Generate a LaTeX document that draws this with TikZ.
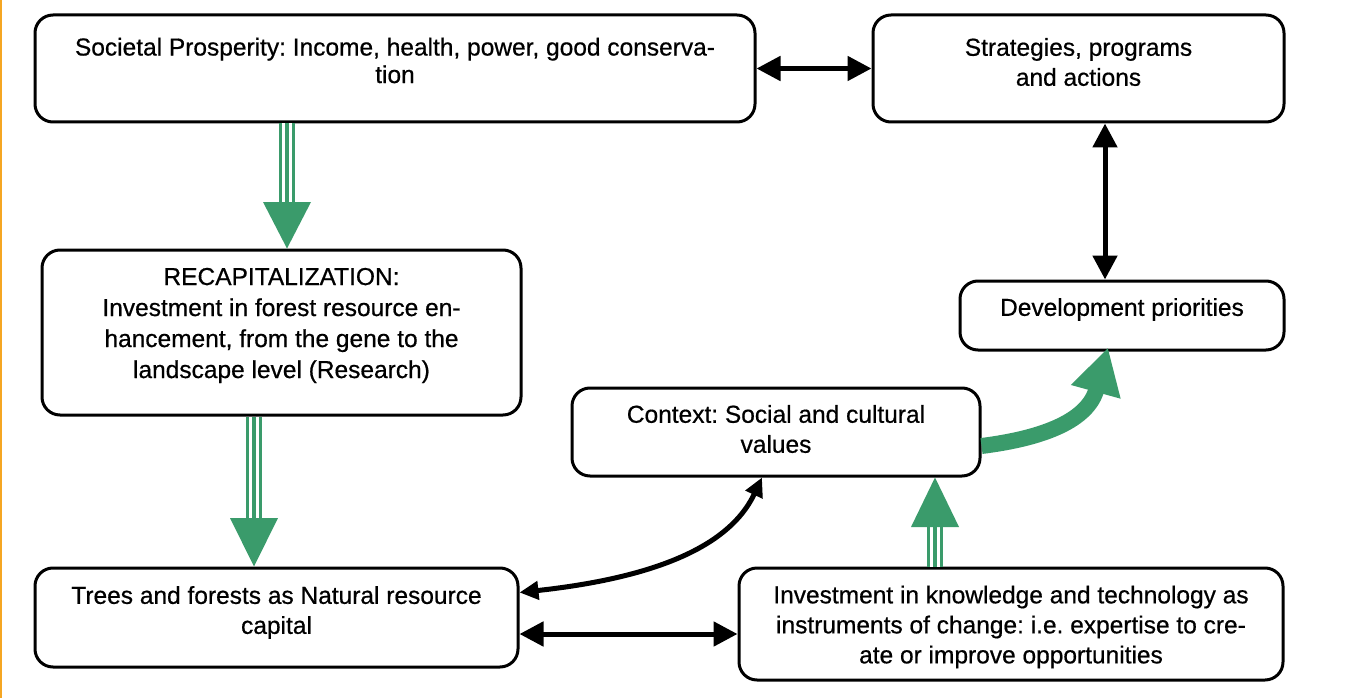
\documentclass[tikz,border=0pt]{standalone}
\usepackage{fontspec}
\setmainfont[FakeBold=0.6]{Liberation Sans}
\usetikzlibrary{arrows.meta}
\definecolor{grn}{HTML}{3A9B6B}
\definecolor{orng}{HTML}{F5A623}
\frenchspacing
\tikzset{
  box/.style={draw=black, line width=3pt, rounded corners=18pt, fill=white, inner sep=0pt},
  txt/.style={align=center, inner sep=0pt, font=\fontsize{24.5}{30}\selectfont},
  biarrow/.style={line width=5pt, {Triangle[length=24pt,width=24pt]}-{Triangle[length=24pt,width=24pt]}},
  curvarrow/.style={line width=5pt, {Triangle[length=19pt,width=18pt]}-{Triangle[length=19pt,width=18pt]}},
  triplea/.style={grn, line width=16pt},
  tripleb/.style={white, line width=10pt},
  triplec/.style={grn, line width=4pt},
  greenhead/.style={fill=grn, draw=none},
}
\begin{document}
\begin{tikzpicture}[x=1pt,y=-1pt]
\useasboundingbox (0,0) rectangle (1360,698);
\fill[white] (0,0) rectangle (1360,698);
\draw[orng, line width=2pt] (1,0) -- (1,698);

\node[box, minimum width=720pt, minimum height=107pt] (b1) at (395,68.5) {};
\node[txt, font=\fontsize{24.5}{27.5}\selectfont] (t1) at ([yshift=8pt]b1.center)
  {Societal Prosperity: Income, health, power, good conserva-\\tion};
\node[box, minimum width=411pt, minimum height=107pt] (b2) at (1078.5,68.5) {};
\node[txt] (t2) at ([yshift=6.5pt]b2.center) {Strategies, programs\\and actions};
\node[box, minimum width=479pt, minimum height=165pt] (b3) at (281.5,332.5) {};
\node[txt, font=\fontsize{24.5}{31}\selectfont] (t3) at ([yshift=7pt]b3.center)
  {RECAPITALIZATION:\\Investment in forest resource en-\\hancement, from the gene to the\\landscape level (Research)};
\node[box, minimum width=324pt, minimum height=69pt] (b4) at (1122,315.5) {};
\node[txt] (t4) at ([yshift=6pt]b4.center) {Development priorities};
\node[box, minimum width=408pt, minimum height=88pt] (b5) at (776,432) {};
\node[txt] (t5) at ([yshift=3pt]b5.center) {Context: Social and cultural\\values};
\node[box, minimum width=483pt, minimum height=99pt] (b6) at (276.5,617.5) {};
\node[txt] (t6) at ([yshift=5pt]b6.center) {Trees and forests as Natural resource\\capital};
\node[box, minimum width=544pt, minimum height=112pt] (b7) at (1011,624) {};
\node[txt] (t7) at ([yshift=-3pt]b7.center)
  {Investment in knowledge and technology as\\instruments of change: i.e. expertise to cre-\\ate or improve opportunities};

% green triple arrows
\coordinate (x1) at (287,0);
\coordinate (h1) at (287,203);
\draw[triplea] (b1.south -| x1) -- (h1);
\draw[tripleb] (b1.south -| x1) -- (h1);
\draw[triplec] (b1.south -| x1) -- (h1);
\fill[greenhead] (263,202) -- (311,202) -- (b3.north -| x1) -- cycle;

\coordinate (x2) at (254,0);
\coordinate (h2) at (254,519);
\draw[triplea] (b3.south -| x2) -- (h2);
\draw[tripleb] (b3.south -| x2) -- (h2);
\draw[triplec] (b3.south -| x2) -- (h2);
\fill[greenhead] (230,518) -- (278,518) -- (b6.north -| x2) -- cycle;

\coordinate (x3) at (935,0);
\coordinate (h3) at (935,526);
\draw[triplea] (b7.north -| x3) -- (h3);
\draw[tripleb] (b7.north -| x3) -- (h3);
\draw[triplec] (b7.north -| x3) -- (h3);
\fill[greenhead] (911,527) -- (959,527) -- (b5.south -| x3) -- cycle;

% green curved arrow
\draw[grn, line width=16pt, -{Triangle[length=46pt,width=48pt]}]
  ([yshift=-14pt]b5.east) .. controls (1045,438) and (1088,420) .. ([xshift=-14pt,yshift=4pt]b4.south);

% black arrows
\draw[biarrow] (b1.east) -- (b2.west);
\coordinate (x4) at (1105,0);
\draw[biarrow] (b2.south -| x4) -- (b4.north -| x4);
\coordinate (y5) at (0,634);
\draw[biarrow] (b6.east |- y5) -- (b7.west |- y5);
\draw[curvarrow] ([yshift=25pt]b6.east) .. controls (680,575) and (735,535) .. ([xshift=-14pt]b5.south);
\end{tikzpicture}
\end{document}
